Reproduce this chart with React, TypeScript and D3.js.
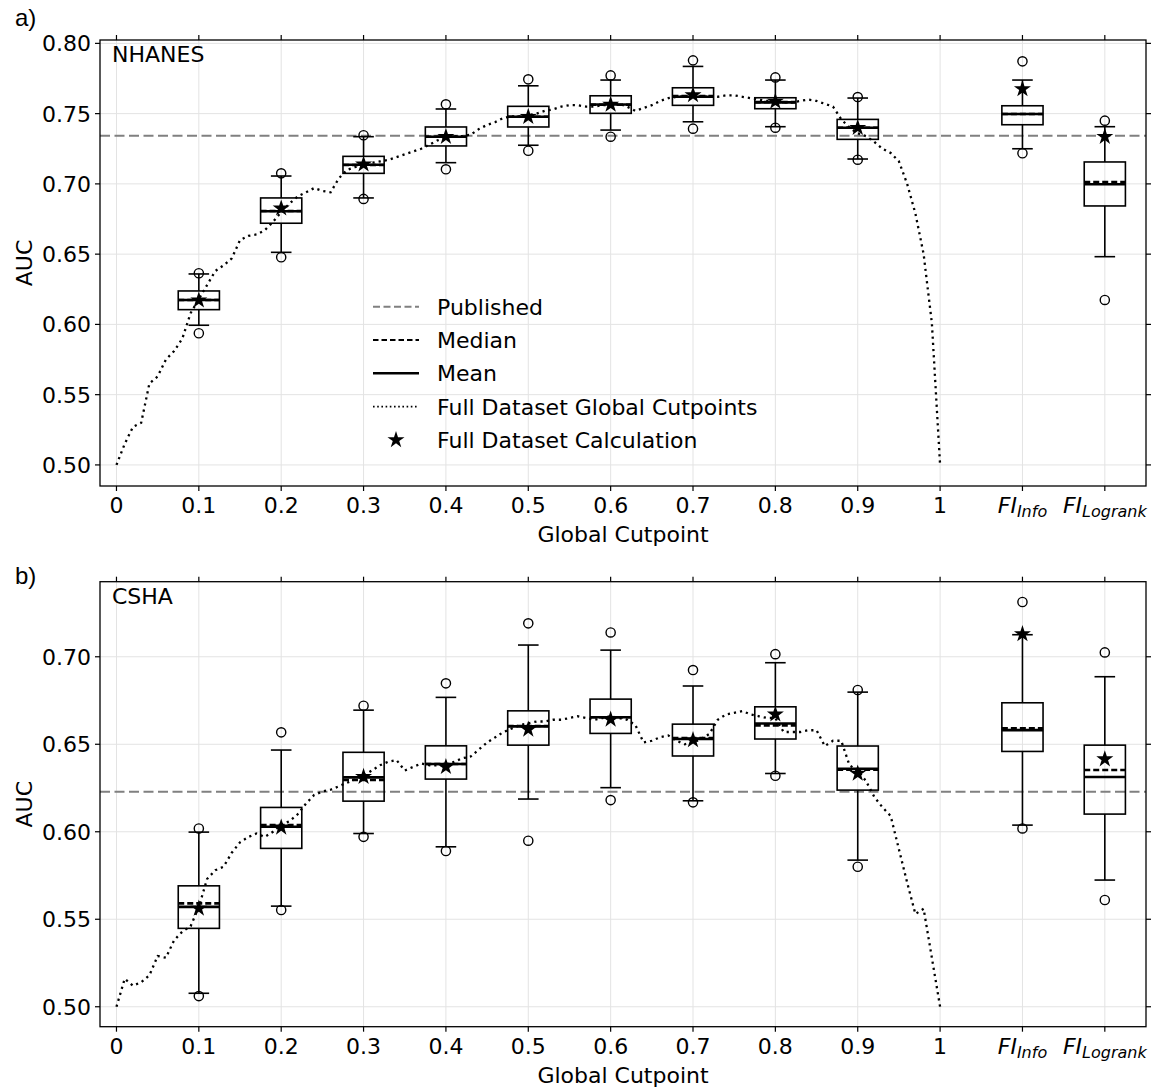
import React from "react";
import * as d3 from "d3";

// slot positions on the x axis: cutpoints 0..1 take slots 0..10, the FI scores 11 and 12
const tickLabels = ["0", "0.1", "0.2", "0.3", "0.4", "0.5", "0.6", "0.7", "0.8", "0.9", "1", "FI_Info", "FI_Logrank"];
const boxNames = ["0.1", "0.2", "0.3", "0.4", "0.5", "0.6", "0.7", "0.8", "0.9", "FI_Info", "FI_Logrank"];

// NHANES bootstrap summaries
const nhanesQ3 = [0.6238, 0.690, 0.7196, 0.7405, 0.7552, 0.7627, 0.7684, 0.7613, 0.7459, 0.7556, 0.7156];
const nhanesQ1 = [0.6105, 0.672, 0.7075, 0.727, 0.7405, 0.7502, 0.7559, 0.7535, 0.7317, 0.7421, 0.6843];
const nhanesMedian = [0.6174, 0.6807, 0.7134, 0.7336, 0.7478, 0.7563, 0.7625, 0.7582, 0.740, 0.7497, 0.7013];
const nhanesMean = [0.6174, 0.6805, 0.7136, 0.7336, 0.7478, 0.7565, 0.762, 0.758, 0.740, 0.7497, 0.6997];
const nhanesHi = [0.6359, 0.7056, 0.7336, 0.7533, 0.7698, 0.7739, 0.7836, 0.7739, 0.7611, 0.7739, 0.7407];
const nhanesLo = [0.5994, 0.6513, 0.690, 0.7151, 0.7275, 0.7383, 0.7442, 0.7407, 0.7177, 0.725, 0.6482];
const nhanesOutHi = [0.6364, 0.7075, 0.7346, 0.7566, 0.7744, 0.7772, 0.7879, 0.7758, 0.7618, 0.7872, 0.745];
const nhanesOutLo = [0.5937, 0.6478, 0.6893, 0.7104, 0.7236, 0.7336, 0.7393, 0.740, 0.7172, 0.7218, 0.6174];
const nhanesFull = [0.6172, 0.6826, 0.7139, 0.7336, 0.7478, 0.7565, 0.7632, 0.7586, 0.740, 0.7675, 0.7336];
const nhanesPublished = 0.7342;
// full dataset AUC at global cutpoints 0.00, 0.01, ... 1.00
const nhanesCurve = [
  0.500, 0.515, 0.527, 0.530, 0.558, 0.563, 0.575, 0.581, 0.590, 0.608,
  0.618, 0.628, 0.638, 0.642, 0.647, 0.660, 0.663, 0.664, 0.667, 0.673,
  0.680, 0.686, 0.691, 0.694, 0.697, 0.695, 0.694, 0.704, 0.710, 0.712,
  0.714, 0.715, 0.716, 0.717, 0.719, 0.721, 0.723, 0.725, 0.728, 0.731,
  0.733, 0.734, 0.734, 0.735, 0.739, 0.742, 0.744, 0.747, 0.748, 0.748,
  0.749, 0.750, 0.752, 0.753, 0.755, 0.756, 0.756, 0.755, 0.755, 0.756,
  0.756, 0.757, 0.755, 0.752, 0.754, 0.756, 0.759, 0.761, 0.762, 0.762,
  0.762, 0.762, 0.762, 0.762, 0.763, 0.763, 0.762, 0.761, 0.760, 0.759,
  0.758, 0.758, 0.758, 0.759, 0.760, 0.759, 0.757, 0.755, 0.746, 0.740,
  0.736, 0.734, 0.730, 0.725, 0.722, 0.716, 0.700, 0.679, 0.650, 0.601,
  0.500,
];

// CSHA bootstrap summaries
const cshaQ3 = [0.5691, 0.6139, 0.6454, 0.6491, 0.6691, 0.6758, 0.6615, 0.6714, 0.6490, 0.6737, 0.6495];
const cshaQ1 = [0.5448, 0.5905, 0.6175, 0.6301, 0.6495, 0.6562, 0.6433, 0.653, 0.6238, 0.6459, 0.6101];
const cshaMedian = [0.5591, 0.6038, 0.6296, 0.6387, 0.6604, 0.6654, 0.6535, 0.6608, 0.6355, 0.6591, 0.6353];
const cshaMean = [0.5571, 0.6029, 0.6311, 0.6387, 0.6602, 0.6654, 0.653, 0.6619, 0.636, 0.6581, 0.6313];
const cshaHi = [0.5998, 0.6467, 0.6695, 0.6768, 0.7067, 0.7038, 0.6833, 0.6966, 0.6798, 0.7126, 0.6886];
const cshaLo = [0.5077, 0.5575, 0.599, 0.5914, 0.6187, 0.6252, 0.6177, 0.6333, 0.5838, 0.6038, 0.5724];
const cshaOutHi = [0.6019, 0.6568, 0.672, 0.6848, 0.7191, 0.7139, 0.6924, 0.7015, 0.681, 0.7313, 0.7025];
const cshaOutLo = [0.5061, 0.5553, 0.5971, 0.589, 0.5949, 0.6181, 0.6168, 0.632, 0.58, 0.6019, 0.561];
const cshaFull = [0.5562, 0.6025, 0.6314, 0.6371, 0.6585, 0.6642, 0.6524, 0.6671, 0.6333, 0.713, 0.6415];
const cshaPublished = 0.6229;
const cshaCurve = [
  0.500, 0.516, 0.512, 0.514, 0.518, 0.529, 0.528, 0.538, 0.543, 0.546,
  0.557, 0.573, 0.578, 0.580, 0.588, 0.594, 0.597, 0.599, 0.597, 0.600,
  0.604, 0.606, 0.610, 0.616, 0.621, 0.623, 0.624, 0.626, 0.628, 0.630,
  0.632, 0.635, 0.638, 0.640, 0.641, 0.635, 0.637, 0.639, 0.638, 0.638,
  0.638, 0.640, 0.642, 0.643, 0.647, 0.651, 0.654, 0.657, 0.659, 0.661,
  0.662, 0.663, 0.663, 0.664, 0.664, 0.665, 0.666, 0.665, 0.664, 0.665,
  0.666, 0.665, 0.664, 0.661, 0.651, 0.652, 0.654, 0.655, 0.652, 0.650,
  0.651, 0.653, 0.656, 0.664, 0.667, 0.668, 0.669, 0.667, 0.666, 0.665,
  0.665, 0.657, 0.657, 0.657, 0.658, 0.658, 0.649, 0.652, 0.652, 0.638,
  0.635, 0.629, 0.620, 0.614, 0.609, 0.590, 0.571, 0.553, 0.556, 0.528,
  0.500,
];

const legendItems = ["Published", "Median", "Mean", "Full Dataset Global Cutpoints", "Full Dataset Calculation"];

const FONT = "'DejaVu Sans', sans-serif";
const LEFT = 100;
const RIGHT = 1146;

function slotOf(name) {
  return tickLabels.indexOf(name);
}

function TickLabel({ label, x, y }) {
  if (label.startsWith("FI_")) {
    const sub = label.slice(3);
    return (
      <text x={x} y={y} textAnchor="middle" fontFamily={FONT} fontSize={22} fontStyle="italic">
        <tspan>FI</tspan>
        <tspan fontSize={16} dy={4}>{sub}</tspan>
      </text>
    );
  }
  return (
    <text x={x} y={y} textAnchor="middle" fontFamily={FONT} fontSize={22}>
      {label}
    </text>
  );
}

function Panel({ top, bottom, yDomain, yTicks, name, tag, tagY, stats, curve, published, legend }) {
  const x = d3.scaleLinear().domain([-0.2, 12.5]).range([LEFT, RIGHT]);
  const y = d3.scaleLinear().domain(yDomain).range([bottom, top]);
  const star = d3.symbol(d3.symbolStar, 90)();
  const boxW = x(0.25) - x(0);
  const capW = x(0.125) - x(0);

  // curve values are sampled every 0.01 cutpoint, i.e. every 0.1 slot
  const line = d3
    .line()
    .x((d, i) => x(i / 10))
    .y((d) => y(d));

  const xSlots = d3.range(tickLabels.length);

  return (
    <g>
      {/* grid */}
      {xSlots.map((s) => (
        <line key={"gx" + s} x1={x(s)} x2={x(s)} y1={top} y2={bottom} stroke="#e3e3e3" strokeWidth={1} />
      ))}
      {yTicks.map((t) => (
        <line key={"gy" + t} x1={LEFT} x2={RIGHT} y1={y(t)} y2={y(t)} stroke="#e3e3e3" strokeWidth={1} />
      ))}

      {/* published reference */}
      <line x1={LEFT} x2={RIGHT} y1={y(published)} y2={y(published)} stroke="#808080" strokeWidth={2} strokeDasharray="10,4.5" />

      {/* boxes */}
      {boxNames.map((b, i) => {
        const cx = x(slotOf(b));
        return (
          <g key={b} fill="none" stroke="#000">
            <line x1={cx} x2={cx} y1={y(stats.q3[i])} y2={y(stats.hi[i])} strokeWidth={1.6} />
            <line x1={cx} x2={cx} y1={y(stats.q1[i])} y2={y(stats.lo[i])} strokeWidth={1.6} />
            <line x1={cx - capW} x2={cx + capW} y1={y(stats.hi[i])} y2={y(stats.hi[i])} strokeWidth={1.6} />
            <line x1={cx - capW} x2={cx + capW} y1={y(stats.lo[i])} y2={y(stats.lo[i])} strokeWidth={1.6} />
            <rect x={cx - boxW} y={y(stats.q3[i])} width={boxW * 2} height={y(stats.q1[i]) - y(stats.q3[i])} strokeWidth={1.6} />
            <line x1={cx - boxW} x2={cx + boxW} y1={y(stats.mean[i])} y2={y(stats.mean[i])} strokeWidth={2.6} />
            <line x1={cx - boxW} x2={cx + boxW} y1={y(stats.median[i])} y2={y(stats.median[i])} strokeWidth={2.6} strokeDasharray="6,3" />
            <circle cx={cx} cy={y(stats.outHi[i])} r={4.6} strokeWidth={1.4} />
            <circle cx={cx} cy={y(stats.outLo[i])} r={4.6} strokeWidth={1.4} />
          </g>
        );
      })}

      {/* full dataset curve */}
      <path d={line(curve)} fill="none" stroke="#000" strokeWidth={2.3} strokeDasharray="2.2,4" />

      {/* full dataset stars */}
      {boxNames.map((b, i) => (
        <path key={"s" + b} d={star} transform={`translate(${x(slotOf(b))},${y(stats.full[i])})`} fill="#000" />
      ))}

      {/* frame */}
      <rect x={LEFT} y={top} width={RIGHT - LEFT} height={bottom - top} fill="none" stroke="#000" strokeWidth={1.3} />

      {/* x ticks, top and bottom */}
      {xSlots.map((s) => (
        <g key={"tx" + s} stroke="#000" strokeWidth={1.2}>
          <line x1={x(s)} x2={x(s)} y1={bottom} y2={bottom + 5} />
          <line x1={x(s)} x2={x(s)} y1={top} y2={top - 5} />
        </g>
      ))}
      {xSlots.map((s) => (
        <TickLabel key={"lx" + s} label={tickLabels[s]} x={x(s)} y={bottom + 27} />
      ))}

      {/* y ticks, left and right */}
      {yTicks.map((t) => (
        <g key={"ty" + t}>
          <line x1={LEFT - 5} x2={LEFT} y1={y(t)} y2={y(t)} stroke="#000" strokeWidth={1.2} />
          <line x1={RIGHT} x2={RIGHT + 5} y1={y(t)} y2={y(t)} stroke="#000" strokeWidth={1.2} />
          <text x={LEFT - 9} y={y(t)} dy="0.36em" textAnchor="end" fontFamily={FONT} fontSize={22}>
            {d3.format(".2f")(t)}
          </text>
        </g>
      ))}

      <text x={(LEFT + RIGHT) / 2} y={bottom + 56} textAnchor="middle" fontFamily={FONT} fontSize={22}>
        Global Cutpoint
      </text>
      <text transform={`translate(32,${(top + bottom) / 2}) rotate(-90)`} textAnchor="middle" fontFamily={FONT} fontSize={22}>
        AUC
      </text>
      <text x={112} y={top + 22} fontFamily={FONT} fontSize={22}>
        {name}
      </text>
      <text x={15} y={tagY} fontFamily="'Liberation Sans', Arial, sans-serif" fontSize={24}>
        {tag}
      </text>

      {legend && (
        <g>
          {legendItems.map((item, i) => {
            const ly = 306.7 + i * 33.3;
            let mark;
            if (i === 0) mark = <line x1={373} x2={419} y1={ly} y2={ly} stroke="#808080" strokeWidth={2} strokeDasharray="7,3.5" />;
            if (i === 1) mark = <line x1={373} x2={419} y1={ly} y2={ly} stroke="#000" strokeWidth={2} strokeDasharray="5.5,3" />;
            if (i === 2) mark = <line x1={373} x2={419} y1={ly} y2={ly} stroke="#000" strokeWidth={2.6} />;
            if (i === 3) mark = <line x1={373} x2={419} y1={ly} y2={ly} stroke="#000" strokeWidth={1.6} strokeDasharray="1.6,2.6" />;
            if (i === 4) mark = <path d={star} transform={`translate(396,${ly})`} fill="#000" />;
            return (
              <g key={item}>
                {mark}
                <text x={437} y={ly} dy="0.36em" fontFamily={FONT} fontSize={22}>
                  {item}
                </text>
              </g>
            );
          })}
        </g>
      )}
    </g>
  );
}

export default function App() {
  const nhanes = {
    q1: nhanesQ1, q3: nhanesQ3, median: nhanesMedian, mean: nhanesMean,
    hi: nhanesHi, lo: nhanesLo, outHi: nhanesOutHi, outLo: nhanesOutLo, full: nhanesFull,
  };
  const csha = {
    q1: cshaQ1, q3: cshaQ3, median: cshaMedian, mean: cshaMean,
    hi: cshaHi, lo: cshaLo, outHi: cshaOutHi, outLo: cshaOutLo, full: cshaFull,
  };
  return (
    <svg width={1157} height={1090} style={{ position: "absolute", left: 0, top: 0, background: "#fff" }}>
      <Panel
        top={40}
        bottom={486}
        yDomain={[0.485, 0.8024]}
        yTicks={[0.5, 0.55, 0.6, 0.65, 0.7, 0.75, 0.8]}
        name="NHANES"
        tag="a)"
        tagY={26}
        stats={nhanes}
        curve={nhanesCurve}
        published={nhanesPublished}
        legend={true}
      />
      <Panel
        top={581.7}
        bottom={1026.7}
        yDomain={[0.4886, 0.7429]}
        yTicks={[0.5, 0.55, 0.6, 0.65, 0.7]}
        name="CSHA"
        tag="b)"
        tagY={584}
        stats={csha}
        curve={cshaCurve}
        published={cshaPublished}
        legend={false}
      />
    </svg>
  );
}
